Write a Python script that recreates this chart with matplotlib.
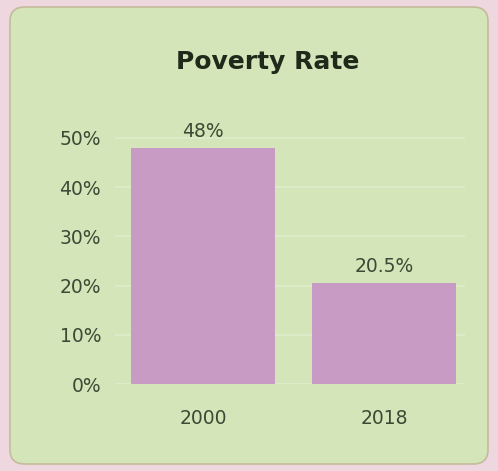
import matplotlib.pyplot as plt
from matplotlib.patches import FancyBboxPatch

plt.rcParams['font.family'] = ['DejaVu Sans']

# Poverty rate by year
years = ['2000', '2018']
rates = [48, 20.5]
rate_labels = ['48%', '20.5%']
y_ticks = [0, 10, 20, 30, 40, 50]

W, H = 498, 471
fig = plt.figure(figsize=(W / 100, H / 100), dpi=100)
fig.patch.set_facecolor('#efd7df')

# rounded green card behind the chart
card = FancyBboxPatch((10 / W, 7 / H), 478 / W, 457 / H,
                      boxstyle='round,pad=0,rounding_size=0.03',
                      transform=fig.transFigure, facecolor='#d3e5b9',
                      edgecolor='#c4bb9c', linewidth=1.2, zorder=-10)
fig.patches.append(card)

ax = fig.add_axes([115 / W, 1 - 384 / H, 350 / W, 259 / H])
ax.set_facecolor('none')

x = list(range(len(years)))
ax.bar(x, rates, width=0.8, color='#c79bc3', zorder=2)
for xi, r, lab in zip(x, rates, rate_labels):
    ax.annotate(lab, (xi, r), xytext=(0, 5), textcoords='offset points',
                ha='center', va='bottom', fontsize=13.5, color='#3b4a35')

ax.set_xlim(-0.486, 1.448)
ax.set_ylim(0, 52.6)
ax.set_yticks(y_ticks)
ax.set_yticklabels([f'{t}%' for t in y_ticks])
ax.set_xticks(x)
ax.set_xticklabels(years)
ax.tick_params(length=0, labelsize=13.5, colors='#3b4a35')
ax.tick_params(axis='x', pad=18)
ax.tick_params(axis='y', pad=10)
ax.grid(axis='y', color='#dfedcb', linewidth=1.2, zorder=0)
for s in ax.spines.values():
    s.set_visible(False)

fig.text(268 / W, 1 - 62 / H, 'Poverty Rate', ha='center', va='center',
         fontsize=18, fontweight='bold', color='#1f2a1b')

fig.savefig('out.png', dpi=100, facecolor=fig.get_facecolor())
